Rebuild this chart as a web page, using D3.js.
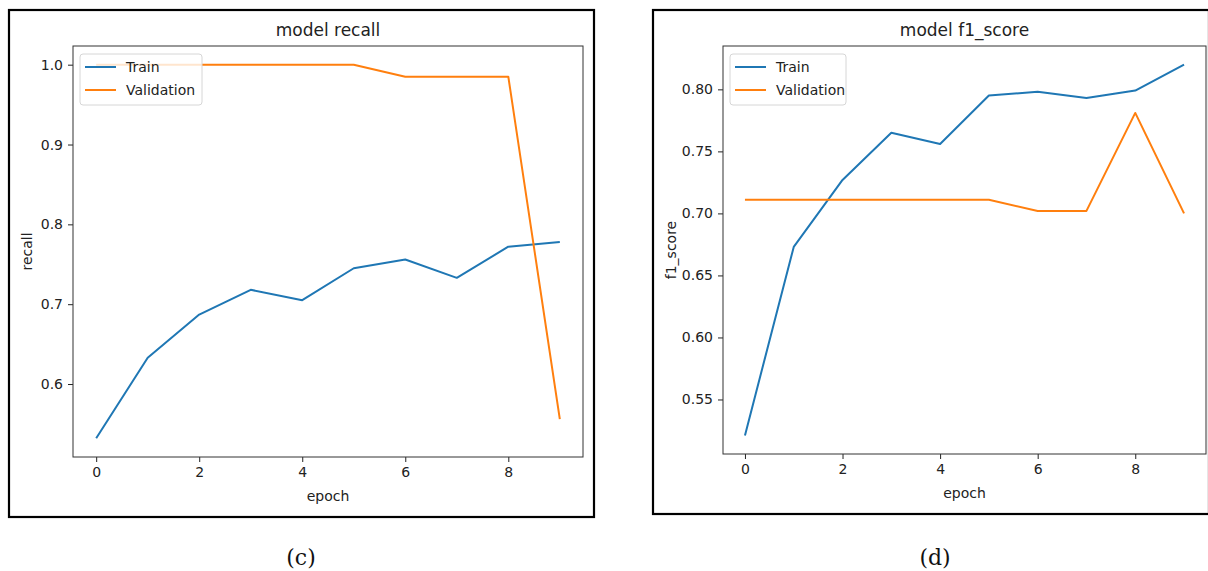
<!DOCTYPE html>
<html>
<head>
<meta charset="utf-8">
<script src="https://cdn.jsdelivr.net/npm/d3@7"></script>
<style>
  body { margin: 0; background: #fff; }
  svg { display: block; }
  .tick text { font-family: "DejaVu Sans", sans-serif; font-size: 14px; fill: #222; }
</style>
</head>
<body>
<div id="chart"></div>
<script>
const epochs = [0, 1, 2, 3, 4, 5, 6, 7, 8, 9];
const xTicks = [0, 2, 4, 6, 8];

const recallTrain = [0.532, 0.633, 0.687, 0.718, 0.705, 0.745, 0.756, 0.733, 0.772, 0.778];
const recallVal = [1.0, 1.0, 1.0, 1.0, 1.0, 1.0, 0.985, 0.985, 0.985, 0.556];
const recallTicks = [0.6, 0.7, 0.8, 0.9, 1.0];

const f1Train = [0.521, 0.673, 0.727, 0.765, 0.756, 0.795, 0.798, 0.793, 0.799, 0.820];
const f1Val = [0.711, 0.711, 0.711, 0.711, 0.711, 0.711, 0.702, 0.702, 0.781, 0.700];
const f1Ticks = [0.55, 0.60, 0.65, 0.70, 0.75, 0.80];

const seriesNames = ["Train", "Validation"];
const colors = ["#1f77b4", "#ff7f0e"];

const width = 1208;
const height = 571;

const svg = d3.select("#chart")
    .append("svg")
    .attr("width", width)
    .attr("height", height);

// matplotlib style auto-limits with 5% margin
function padded(values) {
    const [lo, hi] = d3.extent(values);
    const m = (hi - lo) * 0.05;
    return [lo - m, hi + m];
}

function panel(opt) {
    const g = svg.append("g");

    // figure frame
    g.append("rect")
        .attr("x", opt.frame[0]).attr("y", opt.frame[1])
        .attr("width", opt.frame[2] - opt.frame[0])
        .attr("height", opt.frame[3] - opt.frame[1])
        .attr("fill", "none")
        .attr("stroke", "#000")
        .attr("stroke-width", 2.2);

    const x = d3.scaleLinear()
        .domain(padded(epochs))
        .range([opt.plot.left, opt.plot.right]);

    const y = d3.scaleLinear()
        .domain(padded(opt.train.concat(opt.val)))
        .range([opt.plot.bottom, opt.plot.top]);

    g.append("g")
        .attr("transform", `translate(0,${opt.plot.bottom})`)
        .call(d3.axisBottom(x).tickValues(xTicks).tickFormat(d3.format("d")).tickSize(5).tickPadding(5))
        .call(a => a.select(".domain").remove())
        .call(a => a.selectAll("line").attr("stroke", "#222"));

    g.append("g")
        .attr("transform", `translate(${opt.plot.left},0)`)
        .call(d3.axisLeft(y).tickValues(opt.yTicks).tickFormat(d3.format(opt.fmt)).tickSize(5).tickPadding(5))
        .call(a => a.select(".domain").remove())
        .call(a => a.selectAll("line").attr("stroke", "#222"));

    const line = d3.line()
        .x((d, i) => x(epochs[i]))
        .y(d => y(d));

    [opt.train, opt.val].forEach((s, k) => {
        g.append("path")
            .datum(s)
            .attr("fill", "none")
            .attr("stroke", colors[k])
            .attr("stroke-width", 2)
            .attr("stroke-linejoin", "round")
            .attr("d", line);
    });

    // axes box
    g.append("rect")
        .attr("x", opt.plot.left).attr("y", opt.plot.top)
        .attr("width", opt.plot.right - opt.plot.left)
        .attr("height", opt.plot.bottom - opt.plot.top)
        .attr("fill", "none")
        .attr("stroke", "#333")
        .attr("stroke-width", 1);

    const cx = (opt.plot.left + opt.plot.right) / 2;

    g.append("text")
        .attr("x", cx).attr("y", opt.plot.top - 10)
        .attr("text-anchor", "middle")
        .attr("font-family", "DejaVu Sans, sans-serif")
        .attr("font-size", 17)
        .attr("fill", "#222")
        .text(opt.title);

    g.append("text")
        .attr("x", cx).attr("y", opt.xLabelY)
        .attr("text-anchor", "middle")
        .attr("font-family", "DejaVu Sans, sans-serif")
        .attr("font-size", 14)
        .attr("fill", "#222")
        .text("epoch");

    g.append("text")
        .attr("transform", `translate(${opt.yLabelX},${(opt.plot.top + opt.plot.bottom) / 2}) rotate(-90)`)
        .attr("text-anchor", "middle")
        .attr("font-family", "DejaVu Sans, sans-serif")
        .attr("font-size", 14)
        .attr("fill", "#222")
        .text(opt.yLabel);

    // legend
    const lg = g.append("g")
        .attr("transform", `translate(${opt.plot.left + 7},${opt.plot.top + 8})`);
    lg.append("rect")
        .attr("width", opt.legendW).attr("height", 51)
        .attr("rx", 3)
        .attr("fill", "#fff").attr("fill-opacity", 0.8)
        .attr("stroke", "#d6d6d6");
    seriesNames.forEach((name, k) => {
        const yy = 13 + k * 23;
        lg.append("line")
            .attr("x1", 5).attr("x2", 36)
            .attr("y1", yy).attr("y2", yy)
            .attr("stroke", colors[k]).attr("stroke-width", 2);
        lg.append("text")
            .attr("x", 46).attr("y", yy + 5)
            .attr("font-family", "DejaVu Sans, sans-serif")
            .attr("font-size", 14)
            .attr("fill", "#222")
            .text(name);
    });

    svg.append("text")
        .attr("x", opt.captionX).attr("y", 565)
        .attr("text-anchor", "middle")
        .attr("font-family", "DejaVu Serif, serif")
        .attr("font-size", 22)
        .attr("fill", "#111")
        .text(opt.caption);
}

panel({
    frame: [9, 10, 594, 517],
    plot: { left: 73, right: 583, top: 46, bottom: 457 },
    train: recallTrain, val: recallVal,
    yTicks: recallTicks, fmt: ".1f",
    title: "model recall", yLabel: "recall",
    xLabelY: 501, yLabelX: 32,
    legendW: 122,
    caption: "(c)", captionX: 301
});

panel({
    frame: [653, 10, 1209, 514],
    plot: { left: 723, right: 1206, top: 46, bottom: 454 },
    train: f1Train, val: f1Val,
    yTicks: f1Ticks, fmt: ".2f",
    title: "model f1_score", yLabel: "f1_score",
    xLabelY: 498, yLabelX: 676,
    legendW: 116,
    caption: "(d)", captionX: 935
});
</script>
</body>
</html>
